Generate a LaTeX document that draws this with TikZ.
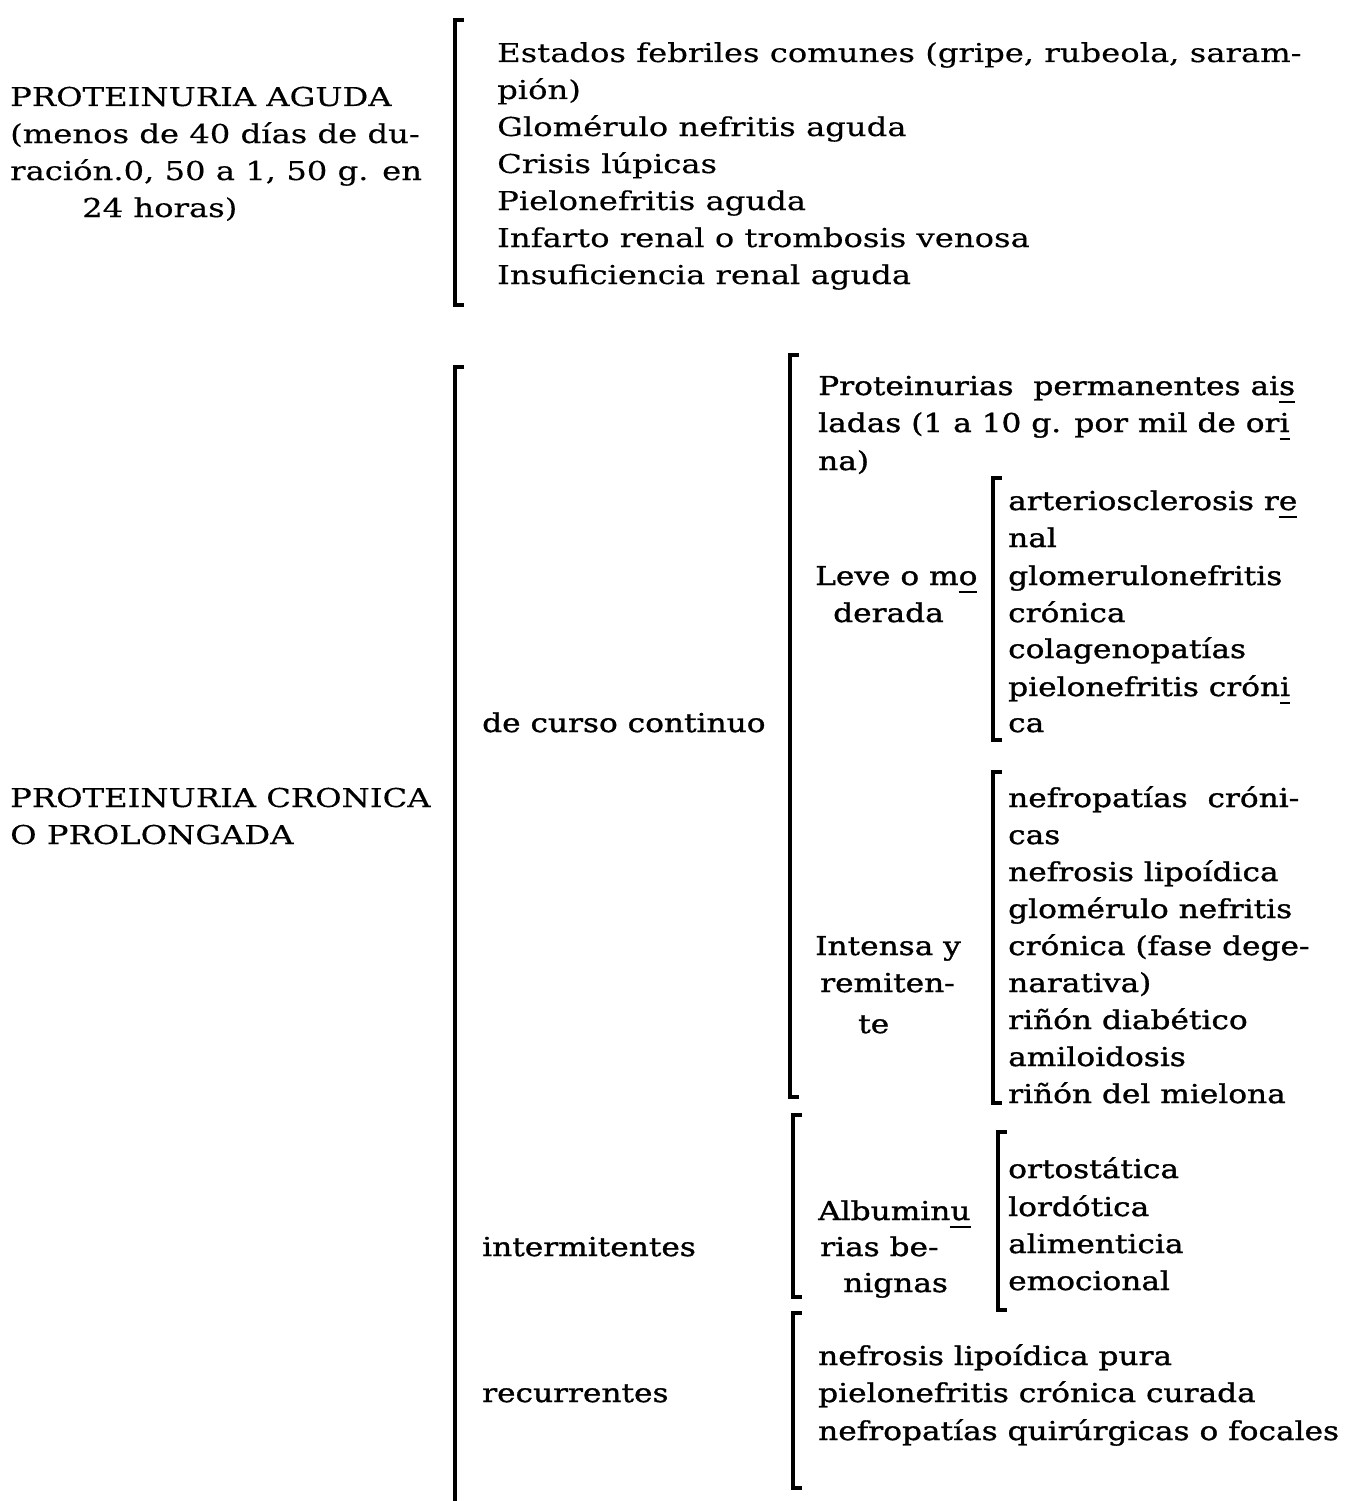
\documentclass[tikz,border=0pt]{standalone}
\usepackage{fontspec}
\setmainfont{DejaVu Serif}[FakeStretch=1.24,FakeBold=0.3]
\newfontfamily\heavy{DejaVu Serif}[FakeStretch=1.2,FakeBold=1.2]
\newcommand\ulch[1]{\setbox0\hbox{#1}\rlap{\rule[-8pt]{\wd0}{2.5pt}}\box0}
\begin{document}
\begin{tikzpicture}[x=1pt,y=-1pt,
  txt/.style={anchor=base west, inner sep=0pt, font=\fontsize{26}{37}\selectfont},
  htxt/.style={txt, font=\fontsize{26}{37}\selectfont\heavy},
  brk/.style={line width=3.5pt, line cap=butt, line join=miter}]
\useasboundingbox[fill=white] (0,0) rectangle (1356,1501);
% ---------- PROTEINURIA AGUDA ----------
\node[txt] (a1) at (10,106) {PROTEINURIA AGUDA};
\node[txt] (a2) at (10,143) {(menos de 40 días de du-};
\node[txt] (a3) at (10,180) {ración.0, 50 a 1, 50 g. en};
\node[txt] (a4) at (82,217) {24 horas)};
\draw[brk] (464,20) -- (455,20) |- (464,305);
\node[txt] (r1) at (497,62) {Estados febriles comunes (gripe, rubeola, saram-};
\node[txt] (r2) at (497,99) {pión)};
\node[txt] (r3) at (497,136) {Glomérulo nefritis aguda};
\node[txt] (r4) at (497,173) {Crisis lúpicas};
\node[txt] (r5) at (497,210) {Pielonefritis aguda};
\node[txt] (r6) at (497,247) {Infarto renal o trombosis venosa};
\node[txt] (r7) at (497,284) {Insuficiencia renal aguda};
% ---------- PROTEINURIA CRONICA ----------
\node[txt] (c1) at (10,807) {PROTEINURIA CRONICA};
\node[txt] (c2) at (10,844) {O PROLONGADA};
\draw[brk] (464,367) -- (455,367) -- (455,1505);
\node[htxt] (k1) at (482,732) {de curso continuo};
\node[htxt] (k2) at (482,1256) {intermitentes};
\node[htxt] (k3) at (482,1402) {recurrentes};
% de curso continuo
\draw[brk] (799,355) -- (790,355) |- (799,1097);
\node[htxt] (p1) at (818,395) {Proteinurias\ \ permanentes ai\ulch{s}};
\node[htxt] (p2) at (818,432) {ladas (1 a 10 g. por mil de or\ulch{i}};
\node[htxt] (p3) at (818,470) {na)};
\node[htxt] (l1) at (815,585) {Leve o m\ulch{o}};
\node[htxt] (l2) at (833,622) {derada};
\draw[brk] (1002,478) -- (993,478) |- (1002,740);
\node[htxt] (m1) at (1008,510) {arteriosclerosis r\ulch{e}};
\node[htxt] (m2) at (1008,547) {nal};
\node[htxt] (m3) at (1008,585) {glomerulonefritis};
\node[htxt] (m4) at (1008,622) {crónica};
\node[htxt] (m5) at (1008,658) {colagenopatías};
\node[htxt] (m6) at (1008,696) {pielonefritis crón\ulch{i}};
\node[htxt] (m7) at (1008,732) {ca};
\node[htxt] (i1) at (815,955) {Intensa y};
\node[htxt] (i2) at (820,992) {remiten-};
\node[htxt] (i3) at (858,1033) {te};
\draw[brk] (1002,772) -- (993,772) |- (1002,1103);
\node[htxt] (n1) at (1008,807) {nefropatías\ \ cróni-};
\node[htxt] (n2) at (1008,844) {cas};
\node[htxt] (n3) at (1008,881) {nefrosis lipoídica};
\node[htxt] (n4) at (1008,918) {glomérulo nefritis};
\node[htxt] (n5) at (1008,955) {crónica (fase dege-};
\node[htxt] (n6) at (1008,992) {narativa)};
\node[htxt] (n7) at (1008,1029) {riñón diabético};
\node[htxt] (n8) at (1008,1066) {amiloidosis};
\node[htxt] (n9) at (1008,1103) {riñón del mielona};
% intermitentes
\draw[brk] (802,1115) -- (793,1115) |- (802,1297);
\node[htxt] (b1) at (818,1220) {Albumin\ulch{u}};
\node[htxt] (b2) at (820,1256) {rias be-};
\node[htxt] (b3) at (843,1292) {nignas};
\draw[brk] (1007,1132) -- (998,1132) |- (1007,1310);
\node[htxt] (o1) at (1008,1178) {ortostática};
\node[htxt] (o2) at (1008,1216) {lordótica};
\node[htxt] (o3) at (1008,1253) {alimenticia};
\node[htxt] (o4) at (1008,1290) {emocional};
% recurrentes
\draw[brk] (802,1313) -- (793,1313) |- (802,1488);
\node[htxt] (q1) at (818,1365) {nefrosis lipoídica pura};
\node[htxt] (q2) at (818,1402) {pielonefritis crónica curada};
\node[htxt] (q3) at (818,1440) {nefropatías quirúrgicas o focales};
\end{tikzpicture}
\end{document}
